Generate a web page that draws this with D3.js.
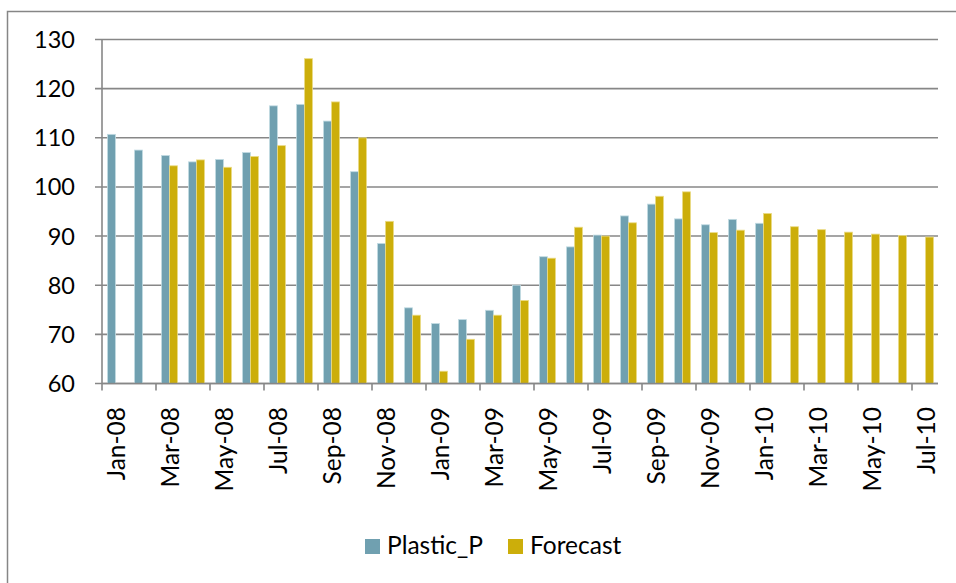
<!DOCTYPE html>
<html><head><meta charset="utf-8">
<script src="https://cdn.jsdelivr.net/npm/d3@7"></script>
<style>
html,body{margin:0;padding:0;background:#fff;}
svg{display:block;font-family:Lato,"Noto Sans",sans-serif;}
</style></head>
<body><svg id="c" width="956" height="583"></svg>
<script>
const months = ["Jan-08","Feb-08","Mar-08","Apr-08","May-08","Jun-08","Jul-08","Aug-08","Sep-08","Oct-08","Nov-08","Dec-08",
"Jan-09","Feb-09","Mar-09","Apr-09","May-09","Jun-09","Jul-09","Aug-09","Sep-09","Oct-09","Nov-09","Dec-09",
"Jan-10","Feb-10","Mar-10","Apr-10","May-10","Jun-10","Jul-10"];
const plastic = [110.7,107.5,106.4,105.1,105.6,107.0,116.5,116.8,113.4,103.1,88.5,75.4,
72.2,73.0,74.9,80.0,85.8,87.8,90.2,94.1,96.5,93.5,92.3,93.4,
92.6,null,null,null,null,null,null];
const forecast = [null,null,104.3,105.5,104.0,106.2,108.4,126.1,117.3,110.0,93.0,73.9,
62.5,69.0,73.9,76.9,85.5,91.8,90.0,92.7,98.1,99.0,90.7,91.2,
94.6,91.9,91.3,90.8,90.4,90.1,89.8];
const seriesNames = ["Plastic_P","Forecast"];
const yTicks = [60,70,80,90,100,110,120,130];
const colors = ["#70A0B0","#CCAE0A"];
const strokes = ["#c2dbe3","#eadb86"];

(function(){
const svg = d3.select("#c");
// outer chart border
svg.append("rect").attr("x",7.5).attr("y",11.5).attr("width",1100).attr("height",1000)
  .attr("fill","none").attr("stroke","#868686").attr("stroke-width",1.5);

const pLeft=102, pRight=939, pTop=39.5, pBottom=383.5;
const x = d3.scaleBand().domain(months).range([pLeft,pRight]).padding(0);
const xs = d3.scaleBand().domain(seriesNames).range([5.5,21.5]).padding(0);
const y = d3.scaleLinear().domain([60,130]).range([pBottom,pTop]);

// gridlines
svg.append("g").selectAll("line").data(yTicks).join("line")
  .attr("x1",pLeft-7).attr("x2",pRight-1).attr("y1",d=>y(d)).attr("y2",d=>y(d))
  .attr("stroke","#878787").attr("stroke-width",1.6);
// y axis line
svg.append("line").attr("x1",pLeft).attr("x2",pLeft).attr("y1",pTop).attr("y2",pBottom)
  .attr("stroke","#878787").attr("stroke-width",1.6);
// y labels
svg.append("g").selectAll("text").data(yTicks).join("text")
  .attr("x",75).attr("y",d=>y(d)).attr("dy","0.36em").attr("text-anchor","end")
  .attr("font-size",23.5).attr("fill","#000").text(d=>d);

// bars
const data = months.map((m,i)=>({m, vals:[plastic[i],forecast[i]]}));
const g = svg.append("g");
seriesNames.forEach((s,si)=>{
  g.selectAll("rect.s"+si).data(data.filter(d=>d.vals[si]!=null)).join("rect")
    .attr("class","s"+si)
    .attr("x",d=>x(d.m)+xs(s)).attr("width",xs.bandwidth())
    .attr("y",d=>y(d.vals[si])).attr("height",d=>pBottom-y(d.vals[si]))
    .attr("fill",colors[si]).attr("stroke",strokes[si]).attr("stroke-width",0.8);
});

// x axis
svg.append("line").attr("x1",pLeft).attr("x2",pRight-1).attr("y1",pBottom).attr("y2",pBottom)
  .attr("stroke","#878787").attr("stroke-width",1.6);
const tickIdx = months.map((m,i)=>i).filter(i=>i%2===0);
svg.append("g").selectAll("line").data(tickIdx).join("line")
  .attr("x1",i=>x(months[i])).attr("x2",i=>x(months[i]))
  .attr("y1",pBottom).attr("y2",pBottom+7).attr("stroke","#878787").attr("stroke-width",1.6);
svg.append("g").selectAll("text").data(tickIdx).join("text")
  .attr("transform",i=>`translate(${x(months[i])+x.bandwidth()/2+1},407) rotate(-90)`)
  .attr("dy","0.36em").attr("text-anchor","end").attr("font-size",24.5).attr("fill","#000")
  .text(i=>months[i]);

// legend
const lg = svg.append("g");
const legX = [365,508];
seriesNames.forEach((s,si)=>{
  lg.append("rect").attr("x",legX[si]).attr("y",539).attr("width",15).attr("height",15).attr("fill",colors[si]);
  lg.append("text").attr("x",legX[si]+22).attr("y",554).attr("font-size",24.5).attr("fill","#000").text(s);
});
})();
</script></body></html>
